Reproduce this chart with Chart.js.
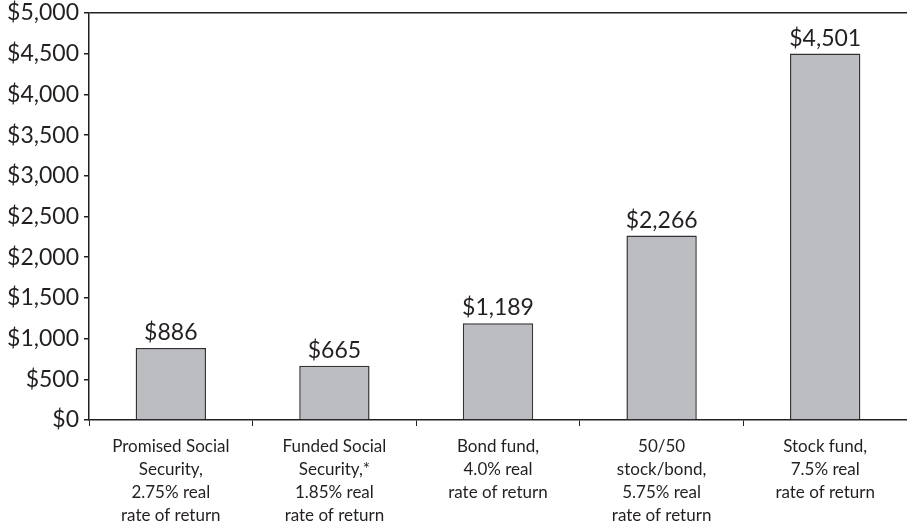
<!DOCTYPE html>
<html>
<head>
<meta charset="utf-8">
<script src="https://cdn.jsdelivr.net/npm/chart.js@4"></script>
<style>
	html, body { margin: 0; padding: 0; background: #fff; }
	#wrap { width: 907px; height: 527px; }
</style>
</head>
<body>
<div id="wrap"><canvas id="chart"></canvas></div>
<script>
// data
const categories = [
	['Promised Social', 'Security,', '2.75% real', 'rate of return'],
	['Funded Social', 'Security,*', '1.85% real', 'rate of return'],
	['Bond fund,', '4.0% real', 'rate of return'],
	['50/50', 'stock/bond,', '5.75% real', 'rate of return'],
	['Stock fund,', '7.5% real', 'rate of return'],
];
const values = [886, 665, 1189, 2266, 4501];
const yTicks = [0, 500, 1000, 1500, 2000, 2500, 3000, 3500, 4000, 4500, 5000];

const ink = '#231f20';
const money = (v) => '$' + v.toLocaleString('en-US');

// labels above bars
const valueLabels = {
	id: 'valueLabels',
	afterDatasetsDraw(chart) {
		const ctx = chart.ctx;
		const meta = chart.getDatasetMeta(0);
		ctx.save();
		ctx.font = '23px Lato';
		ctx.fillStyle = ink;
		ctx.textAlign = 'center';
		ctx.textBaseline = 'alphabetic';
		meta.data.forEach((bar, i) => {
			ctx.fillText(money(values[i]), bar.x, bar.y - 8);
		});
		ctx.restore();
	},
};

new Chart(document.getElementById('chart'), {
	type: 'bar',
	data: {
		labels: categories,
		datasets: [
			{
				data: values,
				backgroundColor: '#bcbdc0',
				borderColor: '#333333',
				borderWidth: 1.5,
				borderSkipped: 'bottom',
				barPercentage: 0.43,
				categoryPercentage: 1,
			},
		],
	},
	options: {
		responsive: true,
		maintainAspectRatio: false,
		animation: false,
		layout: { padding: { top: 13, right: 0, left: 0, bottom: 0 } },
		plugins: {
			legend: { display: false },
			tooltip: { enabled: false },
		},
		scales: {
			x: {
				grid: {
					offset: true,
					color: 'transparent',
					tickColor: ink,
					tickLength: 6,
				},
				border: { display: true, color: ink, width: 1.5 },
				ticks: {
					color: ink,
					font: { family: 'Lato', size: 17, lineHeight: 1.36 },
					padding: 9,
					maxRotation: 0,
					autoSkip: false,
				},
				afterFit: (scale) => {
					scale.height = 107;
					scale.paddingLeft = 0;
					scale.paddingRight = 0;
				},
			},
			y: {
				min: 0,
				max: 5000,
				afterBuildTicks: (scale) => {
					scale.ticks = yTicks.map((v) => ({ value: v }));
				},
				grid: {
					color: (c) => (c.tick && c.tick.value === 5000 ? ink : 'transparent'),
					lineWidth: 1.5,
					tickColor: ink,
					tickLength: 5,
				},
				border: { display: true, color: ink, width: 1.5 },
				ticks: {
					color: ink,
					font: { family: 'Lato', size: 23 },
					padding: 5,
					callback: (v) => money(v),
				},
				afterFit: (scale) => {
					scale.width = 89;
					scale.paddingTop = 0;
					scale.paddingBottom = 0;
				},
			},
		},
	},
	plugins: [valueLabels],
});
</script>
</body>
</html>
